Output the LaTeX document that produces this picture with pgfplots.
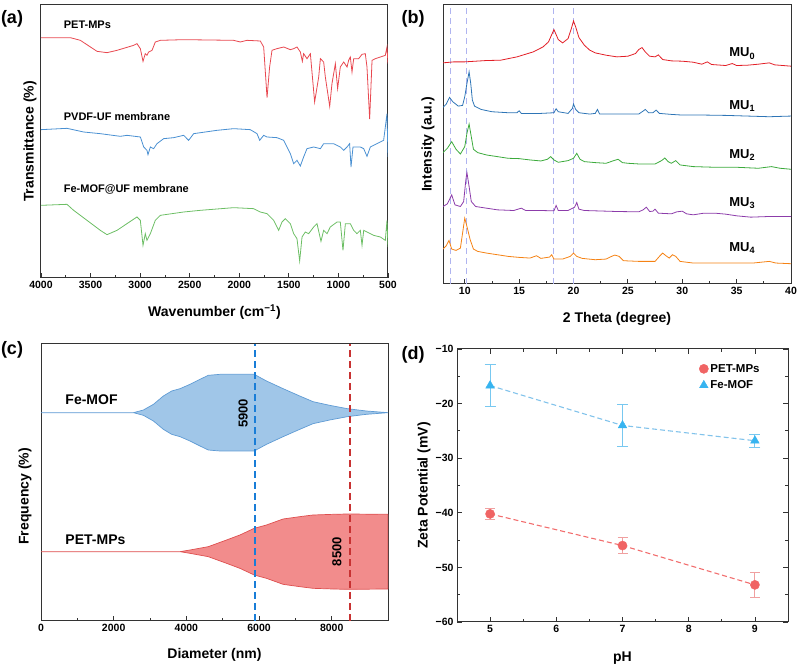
\documentclass[border=0pt]{standalone}
\usepackage{fontspec}
\setmainfont{Liberation Sans}
\usepackage{pgfplots}
\pgfplotsset{compat=1.18}

% FTIR
\definecolor{ftirR}{RGB}{232,72,80}
\definecolor{ftirB}{RGB}{74,144,210}
\definecolor{ftirG}{RGB}{108,190,100}
% XRD
\definecolor{xR}{RGB}{226,30,38}
\definecolor{xB}{RGB}{46,117,182}
\definecolor{xG}{RGB}{60,170,60}
\definecolor{xP}{RGB}{140,60,170}
\definecolor{xO}{RGB}{245,130,20}
\definecolor{xD}{RGB}{175,180,240}
% size distribution
\definecolor{cBfill}{RGB}{160,198,232}
\definecolor{cBline}{RGB}{95,155,212}
\definecolor{cRfill}{RGB}{242,140,140}
\definecolor{cRline}{RGB}{222,80,80}
\definecolor{feMedian}{RGB}{25,125,215}
\definecolor{petMedian}{RGB}{200,50,50}
% zeta potential
\definecolor{dR}{RGB}{240,100,100}
\definecolor{dRl}{RGB}{242,110,110}
\definecolor{dRe}{RGB}{240,160,160}
\definecolor{dB}{RGB}{55,180,240}
\definecolor{dBl}{RGB}{130,195,235}
\definecolor{dBe}{RGB}{120,200,240}

\newcommand{\tickfont}{\bfseries\fontsize{10.5}{12}\selectfont}
\newcommand{\labfont}{\bfseries\fontsize{14}{16}\selectfont}

\pgfplotsset{
  panel/.style={
    scale only axis,
    anchor=south west,
    axis line style={draw=black!80, line width=1pt},
    every tick/.style={black!80, line width=0.8pt},
    major tick length=5pt, minor tick length=3pt, tick align=inside,
    /pgf/number format/assume math mode=true,
    /pgf/number format/1000 sep={},
    scaled ticks=false,
    ticklabel style={font=\tickfont},
    label style={font=\labfont},
  },
  spec/.style={line width=0.8pt, mark=none},
  median/.style={draw=#1, fill=none, mark=none, line width=1.8pt, dash pattern=on 7pt off 4pt},
}

\begin{document}
\begin{tikzpicture}
\path[use as bounding box] (0,0) rectangle (800pt,666pt);

% ---------------- (a) FTIR ----------------
\begin{axis}[panel, at={(41pt,388pt)}, width=347pt, height=273pt,
  xmin=500, xmax=4000, x dir=reverse, ymin=0, ymax=819,
  xtick={500,1000,...,4000}, minor x tick num=1, xtick pos=bottom, ytick=\empty,
  xlabel={Wavenumber (cm\textsuperscript{−1})}, ylabel={Transmittance (\%)},
  xlabel style={at={(axis description cs:0.5,-0.125)}, anchor=center},
  ylabel style={at={(axis description cs:-0.032,0.5)}, anchor=center}]
\addplot[spec, ftirR] coordinates {
(4000,721) (3704,721) (3603,713) (3435,680) (3334,676) (3233,683) (3065,698) (3032,703)
(2998,688) (2971,650) (2948,673) (2931,668) (2914,678) (2880,683) (2847,708) (2796,713)
(2561,715) (2057,713) (1989,708) (1922,713) (1788,711) (1754,693) (1720,541) (1694,633)
(1670,683) (1620,688) (1552,693) (1485,685) (1451,688) (1418,693) (1384,678) (1364,650)
(1351,673) (1317,658) (1283,673) (1240,528) (1199,603) (1182,658) (1149,648) (1132,603)
(1088,515) (1065,583) (1031,643) (1008,568) (981,633) (947,648) (913,633) (897,653)
(880,663) (863,618) (846,658) (796,658) (762,671) (729,673) (712,633) (685,477)
(661,653) (628,658) (577,663) (527,668) (510,693) (500,643)};
\addplot[spec, ftirB] coordinates {
(4000,445) (3738,449) (3570,438) (3402,433) (3200,425) (3133,428) (2998,423) (2964,393)
(2931,383) (2921,370) (2897,393) (2864,388) (2830,403) (2763,418) (2662,421) (2561,428)
(2511,413) (2460,433) (2225,443) (2057,448) (1889,445) (1821,433) (1794,413) (1754,428)
(1720,423) (1620,421) (1552,413) (1519,393) (1485,373) (1451,343) (1418,353) (1384,336)
(1351,363) (1317,388) (1250,393) (1182,388) (1149,403) (1048,403) (981,393) (947,383)
(913,393) (887,403) (873,333) (853,393) (779,393) (745,388) (712,365) (678,393)
(611,403) (544,413) (510,493) (500,363)};
\addplot[spec, ftirG] coordinates {
(4000,218) (3738,221) (3671,203) (3536,173) (3402,143) (3334,130) (3233,143) (3133,163)
(3032,183) (2998,173) (2971,98) (2948,133) (2931,113) (2897,133) (2847,173) (2796,188)
(2561,198) (2393,203) (2057,211) (1855,208) (1788,198) (1720,193) (1653,173) (1603,143)
(1569,168) (1536,178) (1485,163) (1451,133) (1418,118) (1391,51) (1367,123) (1334,138)
(1300,133) (1250,153) (1216,163) (1176,110) (1149,143) (1115,133) (1082,153) (1014,168)
(981,168) (954,83) (930,163) (880,163) (846,143) (813,133) (779,143) (762,98)
(745,143) (712,138) (645,128) (577,123) (527,113) (510,173) (500,93)};
\node[anchor=west, font=\bfseries\fontsize{11}{13}\selectfont] at (axis cs:3805,761) {PET-MPs};
\node[anchor=west, font=\bfseries\fontsize{11}{13}\selectfont] at (axis cs:3805,485) {PVDF-UF membrane};
\node[anchor=west, font=\bfseries\fontsize{11}{13}\selectfont] at (axis cs:3805,265) {Fe-MOF@UF membrane};
\end{axis}

% ---------------- (b) XRD ----------------
\begin{axis}[panel, at={(443pt,382pt)}, width=348pt, height=279pt,
  xmin=8, xmax=40, ymin=0, ymax=839,
  xtick={10,15,...,40}, minor x tick num=1, xtick pos=bottom, ytick=\empty,
  xlabel={2 Theta (degree)}, ylabel={Intensity (a.u.)},
  xlabel style={at={(axis description cs:0.5,-0.125)}, anchor=center},
  ylabel style={at={(axis description cs:-0.043,0.5)}, anchor=center}]
\foreach \p in {8.67,10.2,18.2,20.0}{
  \edef\tmp{\noexpand\addplot[xD, line width=0.9pt, dash pattern=on 6pt off 4pt] coordinates {(\p,0) (\p,839)};}
  \tmp
}
\addplot[spec, xR] coordinates {
(8,665) (9,668) (10,668) (11,670) (12,672) (13.3,673) (14.8,683) (16.3,698) (17.2,713)
(17.7,728) (18.2,765) (18.6,735) (19.0,725) (19.5,738) (19.8,768) (20.0,791) (20.2,773)
(20.5,741) (21.0,718) (21.5,703) (22,695) (23,688) (24,683) (25,685) (25.7,693) (26.0,705)
(26.3,711) (26.6,698) (27,685) (27.5,683) (27.8,689) (28.2,675) (29,671) (30,670) (31,667)
(31.8,661) (32.3,668) (32.7,660) (34,657) (34.6,663) (35,657) (36,658) (37,661) (38,665)
(38.5,659) (40,655)};
\addplot[spec, xB] coordinates {
(8,531) (8.3,541) (8.6,561) (8.9,548) (9.4,535) (9.8,537) (10.0,563) (10.2,603) (10.4,638)
(10.55,603) (10.7,553) (10.9,535) (11.5,525) (12.5,518) (14,515) (14.8,515) (15.0,521)
(15.2,513) (17,513) (18.2,515) (18.4,527) (18.6,518) (19.5,513) (19.9,528) (20.0,541)
(20.2,525) (20.5,515) (21.5,511) (22.0,513) (22.2,525) (22.4,511) (24,511) (26.0,511)
(26.4,520) (26.6,525) (26.9,515) (27.3,515) (27.6,523) (27.9,513) (29,510) (30,508)
(32,508) (34,507) (36,505) (38,503) (40,505)};
\addplot[spec, xG] coordinates {
(8,395) (8.4,408) (8.8,428) (9.2,405) (9.6,391) (10.0,413) (10.2,453) (10.4,481) (10.6,443)
(10.8,405) (11.2,395) (12,388) (13,383) (14,378) (15,377) (16,373) (17,370) (17.6,375)
(17.9,383) (18.2,373) (18.6,366) (19.5,371) (20.0,378) (20.3,393) (20.6,375) (21,368)
(22,365) (23,363) (23.7,371) (24.1,375) (24.5,365) (25,363) (26,361) (27.5,361) (28.1,371)
(28.4,379) (28.7,368) (29.0,363) (29.4,371) (29.8,358) (31,353) (33,351) (35,351) (37,348)
(38.2,353) (39,348) (40,345)};
\addplot[spec, xP] coordinates {
(8,233) (8.4,241) (8.8,268) (9.1,238) (9.6,233) (9.9,248) (10.1,313) (10.2,335) (10.4,293)
(10.6,248) (11,233) (12,228) (13,223) (14.5,221) (15.2,228) (15.6,221) (17,221) (18.2,220)
(18.4,236) (18.6,221) (19.5,221) (20.1,231) (20.3,245) (20.5,225) (21,221) (22,220) (24,218)
(26,217) (26.4,223) (26.7,231) (27.0,218) (27.3,219) (27.5,225) (27.8,213) (29,211)
(29.5,217) (30.0,219) (30.4,211) (31,208) (32,213) (33,213) (34,210) (35,205) (36.3,201)
(38,203) (40,203)};
\addplot[spec, xO] coordinates {
(8,105) (8.3,115) (8.55,131) (8.8,105) (9.2,101) (9.6,108) (9.8,153) (10.0,198) (10.2,173)
(10.5,133) (10.8,105) (11.2,98) (12,93) (13,88) (14,83) (15,80) (16,78) (16.6,85) (17,77)
(17.8,81) (18.0,88) (18.2,75) (19,75) (19.7,83) (20.0,93) (20.3,83) (20.8,77) (22,73)
(23,75) (23.5,83) (23.8,87) (24.2,83) (24.6,70) (26,68) (27.5,68) (27.9,83) (28.2,93)
(28.5,85) (28.8,78) (29.1,88) (29.4,83) (29.8,68) (31,63) (33,63) (35,63) (36.5,63)
(38,68) (38.6,63) (40,61)};
\node[anchor=west, font=\bfseries\fontsize{13}{15}\selectfont] at (axis cs:34.0,693) {MU\textsubscript{0}};
\node[anchor=west, font=\bfseries\fontsize{13}{15}\selectfont] at (axis cs:34.0,535) {MU\textsubscript{1}};
\node[anchor=west, font=\bfseries\fontsize{13}{15}\selectfont] at (axis cs:34.0,388) {MU\textsubscript{2}};
\node[anchor=west, font=\bfseries\fontsize{13}{15}\selectfont] at (axis cs:34.0,243) {MU\textsubscript{3}};
\node[anchor=west, font=\bfseries\fontsize{13}{15}\selectfont] at (axis cs:34.0,108) {MU\textsubscript{4}};
\end{axis}

% ---------------- (c) size distribution ----------------
\begin{axis}[panel, at={(41pt,45pt)}, width=347pt, height=277pt,
  xmin=0, xmax=9550, ymin=0, ymax=831,
  xtick={0,2000,4000,6000,8000}, minor x tick num=1, xtick pos=bottom, ytick=\empty,
  xlabel={Diameter (nm)}, ylabel={Frequency (\%)},
  xlabel style={at={(axis description cs:0.5,-0.123)}, anchor=center},
  ylabel style={at={(axis description cs:-0.046,0.45)}, anchor=center}]
% each outline runs along the upper edge and back along the lower edge
\addplot[fill=cBfill, draw=cBline, line width=0.7pt] coordinates {
(0,625) (2545,625) (2819,633) (3094,650) (3368,675) (3597,690) (3826,697) (4101,710)
(4375,725) (4604,737) (4924,740) (5199,740) (5474,740) (5867,740) (6206,720) (6663,697)
(7121,675) (7487,658) (7945,647) (8430,637) (8952,630) (9550,625)
(8952,620) (8430,613) (7945,603) (7487,592) (7121,575) (6663,553) (6206,530) (5867,510)
(5474,510) (5199,510) (4924,510) (4604,513) (4375,525) (4101,540) (3826,553) (3597,560)
(3368,575) (3094,600) (2819,617) (2545,625) (0,625)};
\addplot[fill=cRfill, draw=cRline, line width=0.7pt] coordinates {
(0,208) (3826,208) (4101,213) (4604,223) (5107,243) (5474,258) (5867,278) (6206,288)
(6663,306) (7121,313) (7487,318) (8036,320) (8430,321) (9550,320)
(9550,96) (8430,95) (8036,96) (7487,98) (7121,103) (6663,110) (6206,128) (5867,138)
(5474,158) (5107,173) (4604,193) (4101,203) (3826,208) (0,208)};
% median diameters
\addplot[median=feMedian] coordinates {(5900,0) (5900,831)};
\addplot[median=petMedian] coordinates {(8500,0) (8500,831)};
\node[rotate=90, font=\bfseries\fontsize{13}{15}\selectfont] at (axis cs:5565,623) {5900};
\node[rotate=90, font=\bfseries\fontsize{13}{15}\selectfont] at (axis cs:8146,208) {8500};
\node[anchor=west, font=\bfseries\fontsize{14}{16}\selectfont] at (axis cs:577,663) {Fe-MOF};
\node[anchor=west, font=\bfseries\fontsize{14}{16}\selectfont] at (axis cs:577,243) {PET-MPs};
\end{axis}

% ---------------- (d) zeta potential ----------------
\begin{axis}[panel, at={(457pt,44pt)}, width=331pt, height=273pt,
  xmin=4.5, xmax=9.5, ymin=-60, ymax=-10,
  xtick={5,6,7,8,9}, minor x tick num=1,
  ytick={-60,-50,-40,-30,-20,-10}, yticklabels={−60,−50,−40,−30,−20,−10}, minor y tick num=1,
  xlabel={pH}, ylabel={Zeta Potential (mV)},
  xlabel style={at={(axis description cs:0.5,-0.132)}, anchor=center},
  ylabel style={at={(axis description cs:-0.1,0.5)}, anchor=center},
  legend style={draw=none, fill=none, at={(axis description cs:0.93,0.96)}, anchor=north east,
    font=\bfseries\fontsize{11.5}{13}\selectfont, row sep=3pt},
  legend cell align=left]
\addplot[dRl, line width=1.1pt, dash pattern=on 5pt off 3pt, forget plot] coordinates {(5,-40.2) (7,-46.0) (9,-53.2)};
\addplot[dBl, line width=1.1pt, dash pattern=on 5pt off 3pt, forget plot] coordinates {(5,-16.7) (7,-24.0) (9,-26.8)};
\addplot[only marks, mark=*, mark size=4.6pt, color=dR,
  error bars/.cd, y dir=both, y explicit,
  error bar style={dRe, line width=0.9pt},
  error mark options={rotate=90, dRe, mark size=5pt, line width=0.9pt}]
  coordinates {(5,-40.2) +- (0,1.0) (7,-46.0) +- (0,1.5) (9,-53.2) +- (0,2.3)};
\addlegendentry{PET-MPs}
\addplot[only marks, mark=triangle*, mark size=5pt, color=dB,
  error bars/.cd, y dir=both, y explicit,
  error bar style={dBe, line width=0.9pt},
  error mark options={rotate=90, dBe, mark size=5.5pt, line width=0.9pt}]
  coordinates {(5,-16.7) +- (0,3.8) (7,-24.0) +- (0,3.8) (9,-26.8) +- (0,1.2)};
\addlegendentry{Fe-MOF}
\end{axis}

% panel letters
\node[font=\bfseries\fontsize{18}{20}\selectfont] at (12pt,647pt) {(a)};
\node[font=\bfseries\fontsize{18}{20}\selectfont] at (413pt,647pt) {(b)};
\node[font=\bfseries\fontsize{18}{20}\selectfont] at (12pt,316pt) {(c)};
\node[font=\bfseries\fontsize{18}{20}\selectfont] at (413pt,311pt) {(d)};
\end{tikzpicture}
\end{document}
